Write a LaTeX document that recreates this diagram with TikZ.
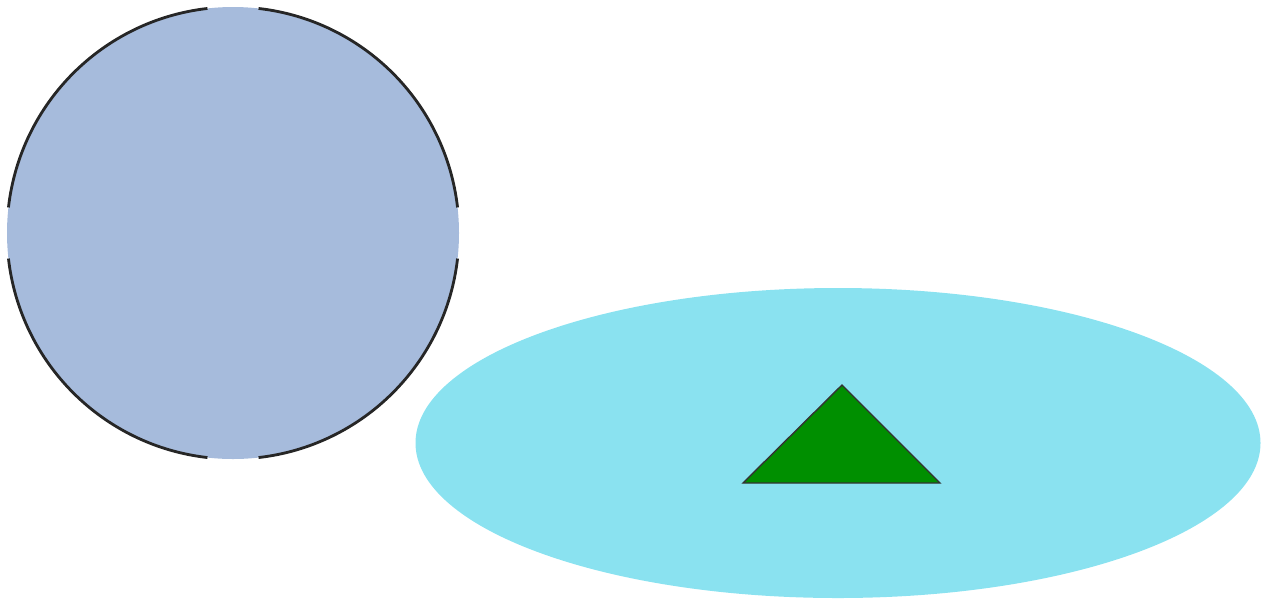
\documentclass[tikz,border=0pt]{standalone}
\usepackage{tikz}
\definecolor{discBlue}{RGB}{166, 187, 220}
\definecolor{poolCyan}{RGB}{138, 226, 240}
\definecolor{tentGreen}{RGB}{0, 143, 0}

\begin{document}
\begin{tikzpicture}[scale=1]
        \useasboundingbox (0,0) rectangle (25.38,-12);
        % left disc, outline broken at the four compass points
        \fill[discBlue] (4.66,-4.66) circle (4.52);
        \foreach \a in {0,90,180,270}
          \draw[black!85, line width=1.6pt] ([shift={(\a+6.5:4.52)}]4.66,-4.66) arc (\a+6.5:\a+83.5:4.52);
        % ellipse with the triangle on it
        \fill[poolCyan] (16.76,-8.86) ellipse (8.45 and 3.1);
        \filldraw[fill=tentGreen, draw=black!80, line width=0.8pt] (14.86,-9.66) -- (16.84,-7.7) -- (18.8,-9.66) -- cycle;
      \end{tikzpicture}
\end{document}
